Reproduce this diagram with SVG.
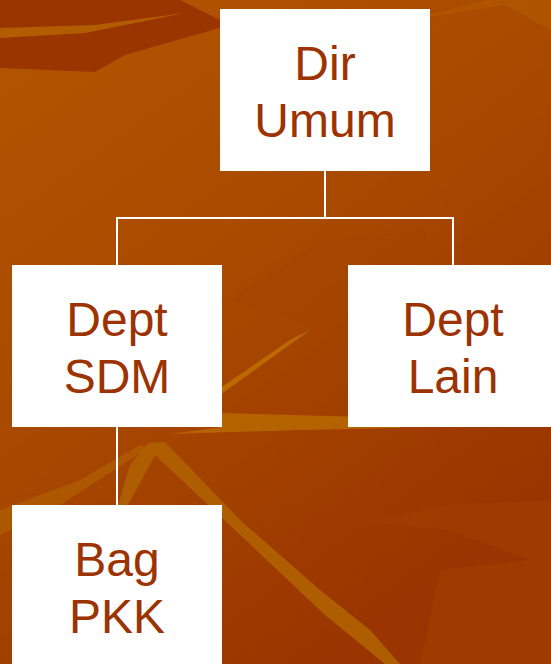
<svg xmlns="http://www.w3.org/2000/svg" width="551" height="664" viewBox="0 0 551 664">
<defs>
<linearGradient id="bg" x1="0" y1="0" x2="0.6" y2="1">
<stop offset="0" stop-color="#B35600"/>
<stop offset="0.5" stop-color="#A84900"/>
<stop offset="1" stop-color="#9A3400"/>
</linearGradient>
<style>
.box{fill:#FFFFFF}
.lbl{font-family:"Liberation Sans",Arial,sans-serif;font-size:48px;fill:#9C3300;text-anchor:middle}
.conn{stroke:#FFFFFF;stroke-width:2;fill:none}
</style>
</defs>
<g id="background">
<rect x="0" y="0" width="551" height="664" fill="url(#bg)"/>
<polygon points="0,0 180,0 230,25 125,55 95,72 0,68" fill="#9A3500"/>
<polygon points="0,28 95,25 185,13 85,33 0,38" fill="#B86600" opacity="0.8"/>
<polygon points="410,20 485,0 551,0 551,30 505,5" fill="#B35A00" opacity="0.6"/>
<polygon points="230,300 320,240 425,230 420,300 330,330" fill="#A44400" opacity="0.5"/>
<polygon points="210,395 290,340 310,330 220,395" fill="#BC6A00"/>
<polygon points="222,413 330,416 400,418 400,428 300,430 170,434 222,427" fill="#B46300"/>
<polygon points="0,510 80,480 140,445 148,448 60,505 0,535" fill="#B06000" opacity="0.7"/>
<polygon points="118,505 130,465 148,443 165,442 240,520 320,590 370,630 400,664 385,664 325,615 235,530 155,455 128,505" fill="#AE5E00"/>
<polygon points="365,522 445,505 551,500 551,664 420,664 440,570 530,560 450,530" fill="#A34000" opacity="0.5"/>
</g>
<g id="connectors">
<line class="conn" x1="325" y1="171" x2="325" y2="218"/>
<line class="conn" x1="116" y1="218" x2="454" y2="218"/>
<line class="conn" x1="117" y1="217" x2="117" y2="265"/>
<line class="conn" x1="453" y1="217" x2="453" y2="265"/>
<line class="conn" x1="117" y1="427" x2="117" y2="505"/>
</g>
<g id="node-dir-umum">
<rect class="box" x="220" y="9" width="210" height="162"/>
<text class="lbl" x="325" y="80">Dir</text>
<text class="lbl" x="325" y="137">Umum</text>
</g>
<g id="node-dept-sdm">
<rect class="box" x="12" y="265" width="210" height="162"/>
<text class="lbl" x="117" y="336">Dept</text>
<text class="lbl" x="117" y="393">SDM</text>
</g>
<g id="node-dept-lain">
<rect class="box" x="348" y="265" width="210" height="162"/>
<text class="lbl" x="453" y="336">Dept</text>
<text class="lbl" x="453" y="393">Lain</text>
</g>
<g id="node-bag-pkk">
<rect class="box" x="12" y="505" width="210" height="162"/>
<text class="lbl" x="117" y="576">Bag</text>
<text class="lbl" x="117" y="633">PKK</text>
</g>
</svg>
